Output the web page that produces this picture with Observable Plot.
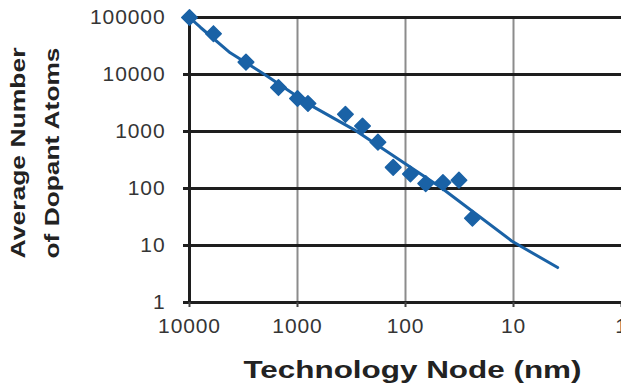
<!DOCTYPE html>
<html>
<head>
<meta charset="utf-8">
<script src="https://cdn.jsdelivr.net/npm/d3@7"></script>
<script src="https://cdn.jsdelivr.net/npm/@observablehq/plot@0.6"></script>
<style>
  html, body { margin: 0; padding: 0; background: #ffffff; }
  #chart { width: 621px; height: 388px; overflow: hidden; }
</style>
</head>
<body>
<div id="chart"></div>
<script>
// Dopant atoms per transistor channel vs. technology node
const nodes = [10000, 6000, 3000, 1500, 1000, 800, 360, 250, 180, 130, 90, 65, 45, 32, 24];
const atoms = [100000, 52000, 16500, 5900, 3800, 3100, 2000, 1250, 650, 235, 180, 122, 127, 140, 30];

// Trend line through the scatter
const trendNodes = [10000, 7900, 4200, 1950, 760, 300, 47, 10.4, 3.9];
const trendAtoms = [100000, 66800, 24000, 9600, 2900, 1080, 104, 12, 4.1];

// Axis ticks and titles
const xTicks = [10000, 1000, 100, 10, 1];
const yTicks = [1, 10, 100, 1000, 10000, 100000];
const xTitle = "Technology Node (nm)";
const yTitleLines = ["Average Number", "of Dopant Atoms"];

const blue = "#1a62a6";
const ink = "#1e1e1e";

const points = nodes.map((x, i) => ({x, y: atoms[i]}));
const trend = trendNodes.map((x, i) => ({x, y: trendAtoms[i]}));

const chart = Plot.plot({
  width: 621,
  height: 388,
  marginLeft: 189,
  marginRight: 0,
  marginTop: 17,
  marginBottom: 86,
  style: {fontFamily: "'Liberation Sans', Arial, sans-serif", background: "transparent", overflow: "visible"},
  x: {type: "log", domain: [10000, 1]},
  y: {type: "log", domain: [1, 100000]},
  marks: [
    // grid: grey verticals, heavy black horizontals
    Plot.ruleX(xTicks.slice(1, 4), {stroke: "#8c8c8c", strokeWidth: 2}),
    Plot.ruleY(yTicks, {stroke: ink, strokeWidth: 3}),
    Plot.ruleX([10000], {stroke: ink, strokeWidth: 3}),
    Plot.axisY({
      ticks: yTicks, tickFormat: d => String(d), tickSize: 6, tickPadding: 18,
      stroke: ink, strokeWidth: 3, fill: "#353535", fontSize: 21, label: null
    }),
    Plot.axisX({
      ticks: xTicks, tickFormat: d => String(d), tickSize: 5, tickPadding: 11,
      stroke: "#444", strokeWidth: 2, fill: "#353535", fontSize: 21, label: null
    }),
    Plot.line(trend, {x: "x", y: "y", stroke: blue, strokeWidth: 3, curve: "linear"}),
    Plot.dot(points, {x: "x", y: "y", symbol: "diamond2", r: 7, fill: blue, stroke: blue, strokeWidth: 1.5, strokeLinejoin: "round"}),
    // axis titles
    Plot.text([xTitle], {
      frameAnchor: "bottom", textAnchor: "middle", lineAnchor: "bottom", dx: 7, dy: 75,
      fontSize: 23, fontWeight: "bold", fill: "#222"
    }),
    Plot.text([yTitleLines[0]], {
      frameAnchor: "left", textAnchor: "middle", rotate: -90, lineAnchor: "bottom", dx: -165, dy: -7,
      fontSize: 20, fontWeight: "bold", fill: "#222"
    }),
    Plot.text([yTitleLines[1]], {
      frameAnchor: "left", textAnchor: "middle", rotate: -90, lineAnchor: "bottom", dx: -131, dy: -7,
      fontSize: 20, fontWeight: "bold", fill: "#222"
    })
  ]
});

document.getElementById("chart").appendChild(chart);

// Stretch the titles to their printed lengths and open up the tick digits
const svg = d3.select(chart);
const lengths = new Map([[xTitle, 338], [yTitleLines[0], 211], [yTitleLines[1], 211]]);
svg.selectAll("text").each(function () {
  const t = this.textContent;
  if (lengths.has(t)) {
    d3.select(this).attr("textLength", lengths.get(t)).attr("lengthAdjust", "spacingAndGlyphs");
  }
});
svg.selectAll('g[aria-label="y-axis tick label"] text, g[aria-label="x-axis tick label"] text')
  .style("letter-spacing", "0.9px");
</script>
</body>
</html>
